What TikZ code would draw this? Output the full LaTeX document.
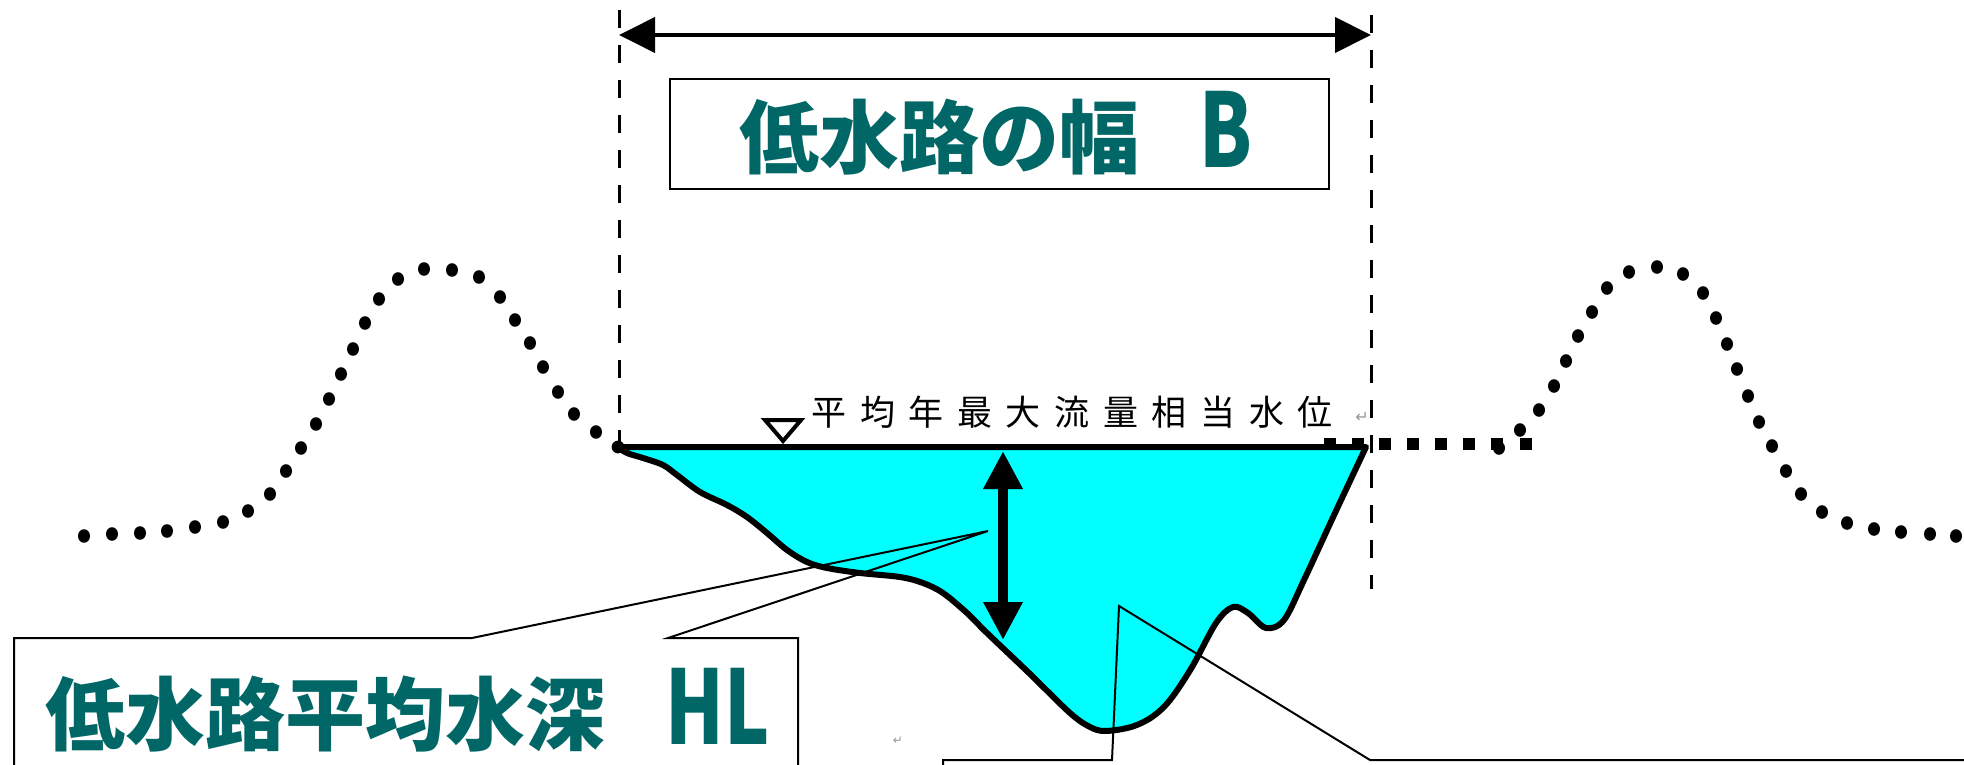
\documentclass[tikz,border=0pt]{standalone}
\usepackage{fontspec}
\usepackage{graphicx}
\usetikzlibrary{arrows.meta}
\newfontfamily\jpfont{Noto Sans CJK JP}
\newfontfamily\jplabel[LetterSpace=39]{Noto Sans CJK JP}
\newfontfamily\symfont{DejaVu Sans}
\definecolor{water}{RGB}{0,255,255}
\definecolor{titleteal}{RGB}{0,102,102}
\definecolor{markgrey}{RGB}{150,150,150}

\tikzset{
  bigtext/.style={text=titleteal, inner sep=0pt,
    font=\jpfont\bfseries\fontsize{40pt}{40pt}\selectfont},
  titlebox/.style={draw=black, line width=1.25pt, fill=white},
  callout/.style={draw=black, line width=1pt, line join=miter},
  guide/.style={draw=black, line width=1.5pt, dash pattern=on 9pt off 8.5pt},
  bankdot/.style={fill=black},
  levee/.style={fill=black},
  riverbed/.style={draw=black, fill=water, line width=3pt, line join=round, line cap=round},
}

\begin{document}
\begin{tikzpicture}[x=0.5pt, y=-0.5pt]
\useasboundingbox (0,0) rectangle (1964,765);
\clip (0,0) rectangle (1964,765);

% dotted hills on both banks
\foreach \px/\py in {84/536,112/534,140/533,167/531,195/527,223/522,248/511,270/494,
  286/471,301/448,316/424,329/399,341/374,353/349,365/323,379/299,398/279,424/269,
  452/270,479/277,500/297,515/320,530/343,543/367,558/392,574/414,596/432}
  \fill[bankdot] (\px,\py) ellipse [x radius=3pt, y radius=3.4pt];
\foreach \px/\py in {1499/448,1520/430,1539/410,1554/386,1566/361,1578/336,1592/312,
  1607/288,1629/272,1657/267,1683/274,1703/293,1716/318,1727/344,1737/369,1748/396,
  1759/422,1772/446,1786/471,1801/494,1822/512,1847/523,1874/529,1901/532,1930/534,1956/536}
  \fill[bankdot] (\px,\py) ellipse [x radius=3pt, y radius=3.4pt];

% square-dotted flood plain on the right
\foreach \px in {1330,1358,1385,1413,1441,1469,1497,1526}
  \fill[levee] (\px-6,438) rectangle (\px+6,450);

% low-water channel cross-section
\draw[riverbed] (618,447)
  plot[smooth, tension=0.55] coordinates {(618,447) (627,453) (643,458) (663,465)
    (677,475) (700,492) (727,505) (747,517) (767,533) (787,550) (807,562) (827,568)
    (860,573) (900,577) (923,583) (943,593) (967,613) (987,633) (1029,673) (1070,713)
    (1090,727) (1105,731) (1131,727) (1152,717) (1170,700) (1192,667) (1216,623)
    (1233,607) (1248,613) (1266,628) (1284,620) (1304,580) (1335,513) (1366,447)}
  -- cycle;
\fill (618,447) circle [radius=3.2pt];

% water level mark
\draw[line width=2pt, fill=white, line join=miter] (765,420) -- (801,420) -- (783,441) -- cycle;
\node[anchor=base west, inner sep=0pt, font=\jplabel\fontsize{17.5pt}{17.5pt}\selectfont]
  (levellabel) at (811,425) {平均年最大流量相当水位};
\node[anchor=center, inner sep=0pt, text=markgrey, font=\symfont\fontsize{8pt}{8pt}\selectfont]
  (markA) at (1362,417) {↵};
\node[anchor=center, inner sep=0pt, text=markgrey, font=\symfont\fontsize{6pt}{6pt}\selectfont]
  (markB) at (898,741) {↵};

% channel width guides
\coordinate (guideLtop) at (619,10);
\coordinate (guideLbot) at (619,445);
\coordinate (guideRtop) at (1371,15);
\coordinate (guideRbot) at (1371,589);
\draw[guide] (guideLtop) -- (guideLbot);
\draw[guide] (guideRtop) -- (guideRbot);
\coordinate (widthL) at (619,35);
\coordinate (widthR) at (1371,35);
\draw[line width=2pt, {Triangle[length=18pt,width=17.5pt]}-{Triangle[length=18pt,width=17.5pt]}]
  (widthL) -- (widthR);

% width label
\node[titlebox, minimum width=329.5pt, minimum height=55pt, inner sep=0pt] (widthbox) at (999.5,134) {};
\node[bigtext, anchor=base west] (widthtext) at (739,167)
  {低水路の幅\hspace{30pt}\scalebox{0.95}[1.28]{B}};

% mean depth arrow
\coordinate (depthTop) at (1003,451);
\coordinate (depthBot) at (1003,640);
\draw[line width=5pt, {Triangle[length=19pt,width=18.5pt]}-{Triangle[length=19pt,width=18.5pt]}]
  (depthTop) -- (depthBot);

% callout for mean depth
\coordinate (depthTip) at (988,531);
\draw[callout] (14,800) -- (14,638) -- (472,638) -- (depthTip) -- (668,638) -- (798,638) -- (798,800);
\node[bigtext, anchor=base west] (depthtext) at (45,744)
  {低水路平均水深\hspace{30pt}\scalebox{0.95}[1.28]{HL}};

% callout for channel area
\coordinate (areaTip) at (1119,606);
\draw[callout] (943,800) -- (943,760) -- (1112,760) -- (areaTip) -- (1370,760) -- (1980,760) -- (1980,800);
\end{tikzpicture}
\end{document}
